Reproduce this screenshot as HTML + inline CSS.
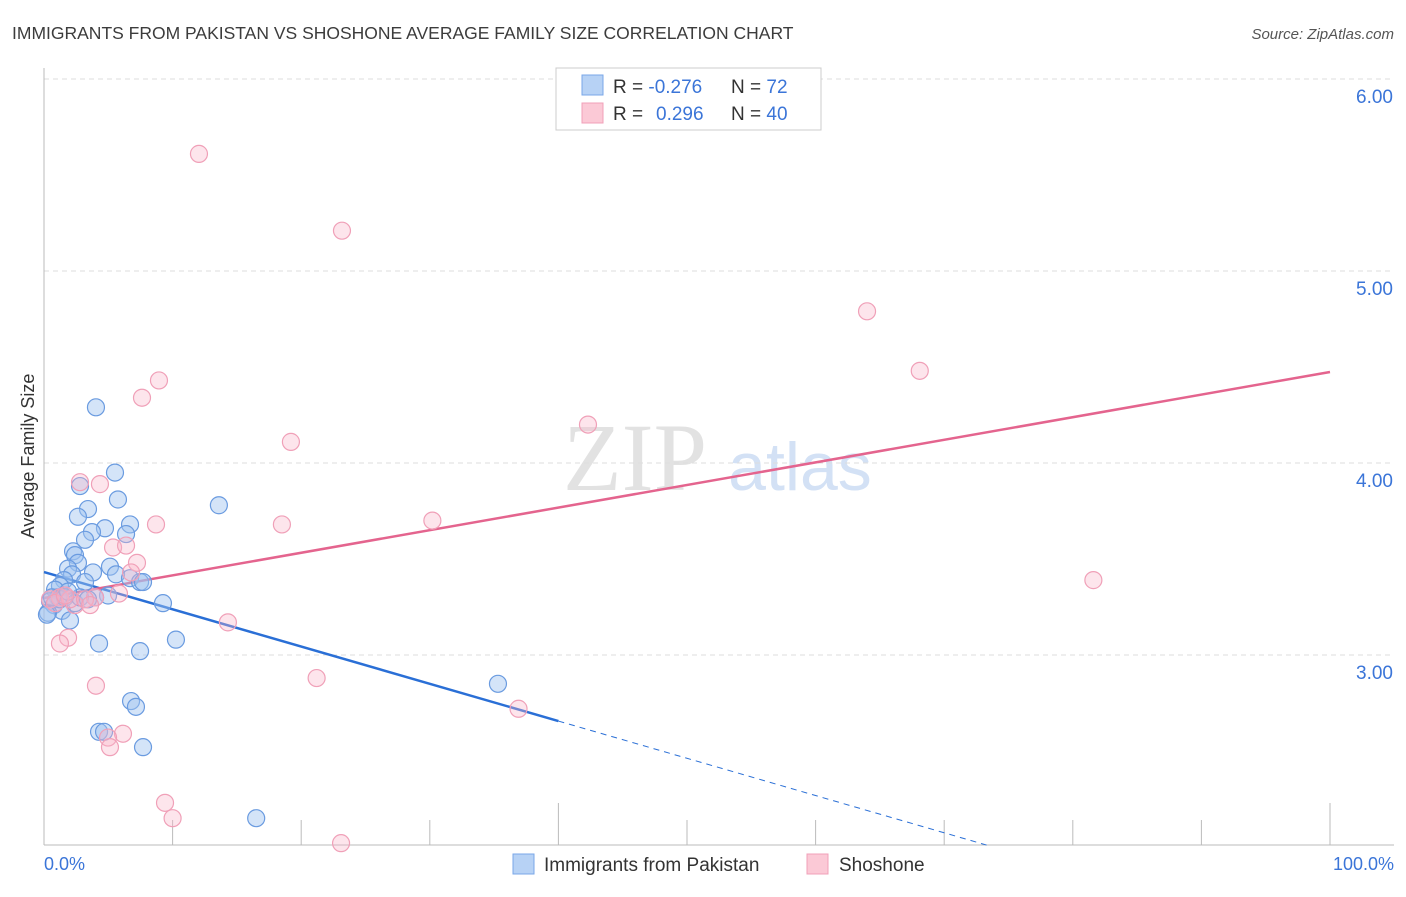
<!DOCTYPE html>
<html><head><meta charset="utf-8"><style>
body{margin:0;background:#fff;font-family:"Liberation Sans",sans-serif}
</style></head><body>
<svg width="1406" height="892" viewBox="0 0 1406 892" xmlns="http://www.w3.org/2000/svg" font-family="Liberation Sans, sans-serif">
<text x="12" y="39" font-size="17.5" fill="#3c3c3c">IMMIGRANTS FROM PAKISTAN VS SHOSHONE AVERAGE FAMILY SIZE CORRELATION CHART</text>
<text x="1394" y="39" font-size="15" fill="#555" font-style="italic" text-anchor="end">Source: ZipAtlas.com</text>
<g><text x="635" y="490" font-size="96" font-family="Liberation Serif, serif" fill="#e2e2e2" text-anchor="middle">ZIP</text><text x="800" y="490" font-size="68" fill="#d3e1f5" text-anchor="middle">atlas</text></g>
<g id="grid"></g>
<g id="axes"></g>
<text transform="translate(34,456) rotate(-90)" font-size="18" fill="#333" text-anchor="middle">Average Family Size</text>
<g id="lines"></g>
<g id="pts"></g>
<g>
<rect x="556" y="68" width="265" height="62" fill="#fff" stroke="#ccc"/>
<rect x="582" y="75" width="21" height="20" fill="#b7d2f5" stroke="#7aa7e8"/>
<rect x="582" y="103" width="21" height="20" fill="#fbc9d6" stroke="#f0a0b8"/>
<text x="613" y="93" font-size="19" fill="#333">R = <tspan fill="#3b75d8">-0.276</tspan><tspan x="731">N = </tspan><tspan fill="#3b75d8">72</tspan></text>
<text x="613" y="120" font-size="19" fill="#333">R = <tspan x="656" fill="#3b75d8">0.296</tspan><tspan x="731">N = </tspan><tspan fill="#3b75d8">40</tspan></text>
</g>
<g>
<rect x="513" y="854" width="21" height="20" fill="#b7d2f5" stroke="#7aa7e8"/>
<text x="544" y="871" font-size="19" fill="#333">Immigrants from Pakistan</text>
<rect x="807" y="854" width="21" height="20" fill="#fbc9d6" stroke="#f0a0b8"/>
<text x="839" y="871" font-size="19" fill="#333">Shoshone</text>
</g>
<text x="44" y="870" font-size="18" fill="#3b75d8">0.0%</text>
<text x="1394" y="870" font-size="18" fill="#3b75d8" text-anchor="end">100.0%</text>
</svg>
<script>
const yTicks=[3,4,5,6];
const yTickLabels=["3.00","4.00","5.00","6.00"];
const blueX=[4.04,5.52,2.80,5.75,13.6,3.42,2.64,6.69,4.74,3.73,6.38,3.19,2.26,2.41,2.64,5.13,1.87,3.81,5.60,2.18,1.56,6.69,7.47,7.70,1.24,3.19,0.86,4.98,3.97,9.25,1.09,0.47,0.78,1.40,0.31,2.02,4.28,10.26,7.47,6.77,7.15,35.3,4.28,4.67,7.70,16.5,1.24,1.63,0.62,2.41,2.80,1.87,3.42,0.23];
const blueY=[4.29,3.95,3.88,3.81,3.78,3.76,3.72,3.68,3.66,3.64,3.63,3.60,3.54,3.52,3.48,3.46,3.45,3.43,3.42,3.42,3.39,3.40,3.38,3.38,3.36,3.38,3.34,3.31,3.30,3.27,3.30,3.28,3.26,3.23,3.22,3.18,3.06,3.08,3.02,2.76,2.73,2.85,2.60,2.60,2.52,2.15,3.29,3.30,3.30,3.27,3.30,3.33,3.29,3.21];
const pinkX=[12.05,23.17,64.0,68.1,8.94,7.62,19.2,42.3,2.80,4.35,8.71,18.5,30.2,5.37,6.38,7.23,6.77,81.6,5.83,3.97,1.24,2.41,14.3,1.87,1.24,4.04,21.2,36.9,6.14,4.98,5.13,9.41,10.0,23.1,0.47,0.86,2.02,3.19,1.63,3.58];
const pinkY=[5.61,5.21,4.79,4.48,4.43,4.34,4.11,4.20,3.90,3.89,3.68,3.68,3.70,3.56,3.57,3.48,3.43,3.39,3.32,3.30,3.30,3.26,3.17,3.09,3.06,2.84,2.88,2.72,2.59,2.57,2.52,2.23,2.15,2.02,3.29,3.27,3.29,3.29,3.31,3.26];
const blueTrend=[3.432,-0.01940];
const pinkTrend=[3.297,0.01177];
const NS="http://www.w3.org/2000/svg";
const X0=44,X1=1330,YB=845;
const xs=v=>X0+(X1-X0)*v/100;
const ys=v=>655-(v-3)*192;
function mk(tag,attrs,parent){const e=document.createElementNS(NS,tag);for(const k in attrs)e.setAttribute(k,attrs[k]);document.getElementById(parent).appendChild(e);return e;}
yTicks.forEach((t,i)=>{
 const l=mk('line',{x1:X0,x2:1394,y1:ys(t),y2:ys(t),stroke:'#ddd','stroke-dasharray':'5,4'},'grid');
 
 
 const tx=mk('text',{x:1393,y:ys(t)+24,'font-size':19,fill:'#3b75d8','text-anchor':'end'},'grid');
 tx.textContent=yTickLabels[i];
 
 
});
mk('line',{x1:X0,x2:X0,y1:68,y2:YB,stroke:'#bbb'},'axes');
mk('line',{x1:X0,x2:1394,y1:YB,y2:YB,stroke:'#bbb'},'axes');
for(let i=1;i<=10;i++){
 const t=mk('line',{x1:xs(i*10),x2:xs(i*10),y1:(i==4||i==10)?803:820,y2:YB,stroke:'#bbb'},'axes');
 
 
}
const bl=mk('line',{x1:xs(0),y1:ys(blueTrend[0]),x2:xs(40),y2:ys(blueTrend[0]+40*blueTrend[1]),stroke:'#2a6fd6','stroke-width':2.5},'lines');


const xe=(2.01-blueTrend[0])/blueTrend[1];
const bd=mk('line',{x1:xs(40),y1:ys(blueTrend[0]+40*blueTrend[1]),x2:xs(xe),y2:ys(2.01),stroke:'#2a6fd6','stroke-width':1,'stroke-dasharray':'6,5'},'lines');


const pl=mk('line',{x1:xs(0),y1:ys(pinkTrend[0]),x2:xs(100),y2:ys(pinkTrend[0]+100*pinkTrend[1]),stroke:'#e4648e','stroke-width':2.5},'lines');


blueX.forEach((x,i)=>{
 const c=mk('circle',{cx:xs(x),cy:ys(blueY[i]),r:8.5,fill:'rgba(160,196,240,0.45)',stroke:'#6a9be0','stroke-width':1.2},'pts');
 
 
});
pinkX.forEach((x,i)=>{
 const c=mk('circle',{cx:xs(x),cy:ys(pinkY[i]),r:8.5,fill:'rgba(248,180,200,0.35)',stroke:'#f0a0b8','stroke-width':1.2},'pts');
 
 
});
</script>
</body></html>
